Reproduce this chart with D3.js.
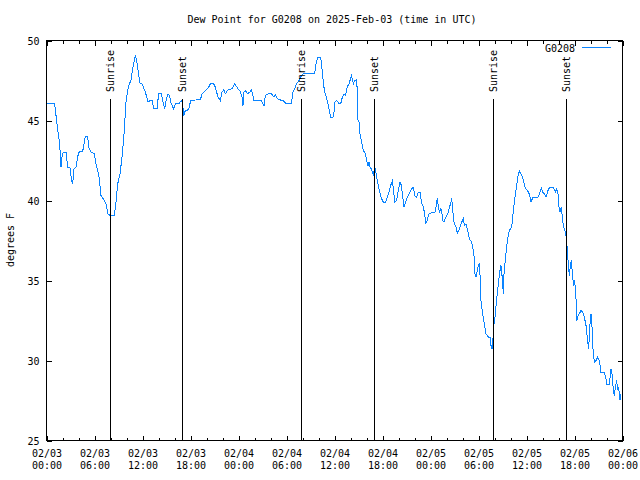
<!DOCTYPE html>
<html>
<head>
<meta charset="utf-8">
<script src="https://cdn.jsdelivr.net/npm/d3@7"></script>
<style>
	body { margin: 0; background: #fff; }
	svg { display: block; font-family: "DejaVu Sans Mono", monospace; font-size: 10px; }
</style>
</head>
<body>
<div id="chart"></div>
<script>
// Station and time window (UTC)
const stationName = "G0208";
const titleText = "Dew Point for G0208 on 2025-Feb-03 (time in UTC)";
const yLabel = "degrees F";
const startTime = Date.UTC(2025, 1, 3, 0, 0);
const endTime = Date.UTC(2025, 1, 6, 0, 0);

// Observations: hours after 02/03 00:00 UTC and dew point (F)
const hoursFromStart = [
	0.1, 1.0, 1.19, 1.4, 1.52, 1.69, 1.81, 1.94, 2.1, 2.44, 2.65, 2.94, 3.1, 3.27, 3.44, 3.69, 3.9, 4.1, 4.52, 4.85,
	5.15, 5.27, 5.56, 5.98, 6.19, 6.4, 6.6, 6.81, 7.23, 7.44, 7.69, 7.94, 8.48, 8.69, 8.9, 9.19, 9.44, 9.65, 9.94, 10.15,
	10.35, 10.56, 10.77, 10.98, 11.1, 11.27, 11.44, 11.69, 11.94, 12.36, 12.69, 12.98, 13.19, 13.4, 13.81, 14.02, 14.36, 14.52, 14.77, 14.94,
	15.19, 15.36, 15.6, 15.9, 16.1, 16.52, 16.85, 17.02, 17.15, 17.36, 17.77, 18.02, 18.81, 19.23, 19.44, 19.86, 20.27, 20.48, 20.9, 21.1,
	21.44, 21.73, 21.94, 22.15, 22.36, 22.69, 23.19, 23.52, 23.94, 24.15, 24.44, 24.56, 24.69, 24.86, 25.11, 25.4, 25.61, 25.81, 25.94, 26.23,
	26.86, 27.06, 27.19, 27.36, 27.69, 28.1, 28.44, 28.6, 28.86, 29.15, 29.56, 29.77, 29.98, 30.6, 30.81, 31.02, 31.23, 31.44, 31.56, 31.77,
	32.06, 33.1, 33.52, 33.73, 33.94, 34.27, 34.44, 34.6, 34.77, 34.98, 35.19, 35.4, 35.52, 35.81, 35.94, 36.06, 36.27, 36.44, 36.56, 36.77,
	36.98, 37.19, 37.4, 37.52, 37.69, 37.81, 37.94, 38.11, 38.23, 38.36, 38.52, 38.77, 38.86, 38.94, 39.06, 39.19, 39.36, 39.61, 39.77, 39.9,
	40.02, 40.19, 40.31, 40.44, 40.6, 40.86, 41.02, 41.15, 41.27, 41.44, 41.56, 41.77, 41.98, 42.19, 42.4, 42.61, 42.81, 43.02, 43.23, 43.36,
	43.52, 43.77, 43.94, 44.19, 44.36, 44.48, 44.69, 44.9, 45.1, 45.44, 45.73, 45.86, 46.02, 46.27, 46.48, 46.69, 46.86, 47.11, 47.27, 47.4,
	47.61, 47.81, 47.94, 48.56, 48.69, 48.86, 48.98, 49.11, 49.27, 49.4, 49.52, 49.69, 49.81, 50.02, 50.23, 50.36, 50.52, 50.65, 50.77, 50.94,
	51.19, 51.36, 51.61, 51.9, 52.1, 52.23, 52.44, 52.6, 52.77, 52.94, 53.15, 53.36, 53.48, 53.56, 53.69, 53.86, 53.98, 54.11, 54.19, 54.31,
	54.52, 54.73, 54.94, 55.11, 55.23, 55.44, 55.56, 55.69, 55.86, 55.94, 56.06, 56.27, 56.48, 56.69, 56.81, 56.94, 57.11, 57.19, 57.36, 57.61,
	57.86, 58.15, 58.36, 58.56, 58.77, 58.98, 59.11, 59.27, 59.52, 59.81, 59.94, 60.27, 60.44, 60.56, 60.77, 61.19, 61.52, 61.69, 61.86, 62.02,
	62.23, 62.44, 62.65, 62.86, 63.36, 63.61, 63.77, 63.94, 64.02, 64.19, 64.36, 64.44, 64.6, 64.86, 65.02, 65.11, 65.19, 65.36, 65.48, 65.61,
	65.77, 65.9, 66.02, 66.19, 66.31, 66.44, 66.61, 66.81, 67.02, 67.23, 67.44, 67.65, 67.77, 67.94, 68.06, 68.19, 68.31, 68.48, 68.69, 68.9,
	69.11, 69.31, 69.73, 69.94, 70.02, 70.36, 70.56, 70.69, 70.86, 70.98, 71.11, 71.27, 71.4, 71.52, 71.69, 71.81
];
const dewPoint = [
	46.08, 46.08, 45.31, 44.38, 44.06, 43.13, 42.08, 42.71, 43.02, 43.02, 42.08, 42.04, 41.35, 41.04, 41.98, 42.08, 42.75, 43.06, 43.06, 44.0,
	44.0, 43.33, 43.02, 42.92, 42.29, 41.88, 41.35, 40.31, 40.0, 39.79, 39.17, 39.06, 39.06, 39.9, 41.04, 41.67, 42.71, 43.85, 46.15, 46.88,
	47.29, 47.5, 48.23, 48.75, 49.06, 48.75, 48.13, 47.33, 47.29, 46.77, 46.15, 46.25, 46.29, 45.73, 45.73, 46.67, 46.67, 46.25, 45.73, 46.25,
	46.67, 46.56, 46.04, 45.73, 46.04, 46.04, 46.25, 46.04, 45.31, 45.63, 45.67, 46.25, 46.29, 46.29, 46.67, 46.88, 47.08, 47.29, 47.29, 47.08,
	46.46, 46.25, 46.77, 46.92, 46.67, 46.92, 46.98, 47.29, 46.98, 46.88, 46.46, 45.94, 46.77, 46.88, 46.67, 46.77, 46.92, 46.56, 46.25, 46.25,
	46.25, 46.04, 45.94, 46.56, 46.67, 46.67, 46.46, 46.63, 46.35, 46.29, 46.25, 46.15, 46.04, 46.04, 46.77, 46.98, 47.29, 47.4, 47.5, 47.71,
	47.92, 47.92, 47.92, 48.65, 48.96, 48.96, 48.23, 47.4, 46.77, 46.46, 46.04, 45.52, 45.21, 45.21, 45.52, 46.15, 46.25, 46.15, 46.04, 46.04,
	46.46, 46.67, 46.56, 46.98, 47.19, 47.29, 47.5, 47.81, 47.6, 47.29, 47.5, 47.54, 46.67, 45.0, 44.9, 44.17, 43.75, 43.12, 43.02, 42.81,
	42.5, 42.19, 42.4, 42.08, 41.98, 41.56, 42.08, 41.88, 41.46, 41.04, 40.73, 40.31, 40.0, 39.83, 39.9, 40.21, 40.52, 40.94, 41.21, 40.73,
	39.9, 40.0, 40.52, 41.15, 40.94, 40.42, 39.58, 39.9, 40.21, 40.52, 40.79, 40.83, 40.31, 40.21, 40.52, 40.52, 39.9, 39.58, 39.17, 38.54,
	38.79, 39.17, 39.21, 39.27, 39.58, 40.17, 39.58, 39.27, 39.48, 39.38, 38.75, 38.65, 38.85, 39.06, 39.27, 39.58, 39.79, 40.17, 39.38, 38.65,
	38.33, 37.96, 38.23, 38.65, 38.85, 38.44, 38.54, 38.23, 37.81, 37.54, 37.4, 36.88, 36.35, 35.42, 35.21, 35.63, 35.94, 36.04, 35.31, 33.75,
	32.92, 32.29, 31.67, 31.56, 31.46, 31.46, 30.94, 30.73, 31.67, 32.29, 32.71, 33.85, 34.79, 35.63, 35.94, 35.31, 34.17, 35.42, 36.35, 37.5,
	38.13, 38.33, 39.38, 40.21, 40.94, 41.67, 41.83, 41.67, 41.46, 40.83, 40.73, 40.52, 40.21, 39.9, 40.17, 40.17, 40.25, 40.52, 40.79, 40.52,
	40.42, 40.21, 40.58, 40.79, 40.79, 40.52, 40.73, 40.42, 39.69, 39.27, 39.58, 39.17, 38.44, 38.02, 37.6, 36.67, 36.25, 35.31, 35.94, 36.25,
	35.21, 34.63, 35.0, 33.85, 32.5, 32.81, 32.92, 33.13, 33.02, 32.71, 32.19, 31.15, 30.73, 32.29, 32.92, 32.08, 30.73, 29.9, 30.0, 30.21,
	30.0, 29.23, 29.23, 28.85, 28.5, 28.5, 29.48, 29.17, 28.13, 27.81, 28.33, 28.75, 28.13, 28.33, 27.5, 27.92
];

// Sunrise / sunset markers
const sunEvents = ["Sunrise", "Sunset", "Sunrise", "Sunset", "Sunrise", "Sunset"];
const sunEventTimes = [
	"2025-02-03T07:58Z", "2025-02-03T16:59Z",
	"2025-02-04T07:51Z", "2025-02-04T16:59Z",
	"2025-02-05T07:51Z", "2025-02-05T16:59Z"
];

// Axis ticks
const yTicks = [25, 30, 35, 40, 45, 50];
const xTickHours = 6;
const xMinorHours = 2;

// General Variables
const width = 640, height = 480;
const plot = { left: 46.5, right: 622.5, top: 40.5, bottom: 440.5 };
const lineColor = "#0a84ff";

let svg = d3.select("#chart").append("svg")
	.attr("width", width)
	.attr("height", height);

let data = hoursFromStart.map((h, i) => ({
	t: new Date(startTime + h * 3600 * 1000),
	v: dewPoint[i]
}));

// scales
let x = d3.scaleUtc()
	.domain([new Date(startTime), new Date(endTime)])
	.range([plot.left, plot.right]);

let y = d3.scaleLinear()
	.domain([25, 50])
	.range([plot.bottom, plot.top]);

let majorTicks = d3.utcHour.every(xTickHours).range(new Date(startTime), new Date(endTime + 1));
let minorTicks = d3.utcHour.every(xMinorHours).range(new Date(startTime), new Date(endTime + 1))
	.filter(d => d.getUTCHours() % xTickHours != 0);

// Bottom axis with two-line labels
let xAxisG = svg.append("g")
	.attr("transform", "translate(0," + plot.bottom + ")")
	.call(d3.axisBottom(x).tickValues(majorTicks).tickSizeInner(-5).tickSizeOuter(0).tickPadding(8).tickFormat(""));
xAxisG.selectAll(".tick text").each(function (d) {
	let t = d3.select(this).attr("dy", null);
	t.append("tspan").attr("x", 0).attr("y", 16).text(d3.utcFormat("%m/%d")(d));
	t.append("tspan").attr("x", 0).attr("y", 28).text(d3.utcFormat("%H:%M")(d));
});
svg.append("g")
	.attr("transform", "translate(0," + plot.bottom + ")")
	.call(d3.axisBottom(x).tickValues(minorTicks).tickSizeInner(-3).tickSizeOuter(0).tickFormat(""));

// Mirrored ticks on top
svg.append("g")
	.attr("transform", "translate(0," + plot.top + ")")
	.call(d3.axisTop(x).tickValues(majorTicks).tickSizeInner(-5).tickSizeOuter(0).tickFormat(""));
svg.append("g")
	.attr("transform", "translate(0," + plot.top + ")")
	.call(d3.axisTop(x).tickValues(minorTicks).tickSizeInner(-3).tickSizeOuter(0).tickFormat(""));

// Y axis left and mirrored right
let yAxisG = svg.append("g")
	.attr("transform", "translate(" + plot.left + ",0)")
	.call(d3.axisLeft(y).tickValues(yTicks).tickSizeInner(-5).tickSizeOuter(0).tickPadding(7).tickFormat(d3.format("d")));
yAxisG.selectAll(".tick text").attr("x", -7).attr("dy", "0.35em");
svg.append("g")
	.attr("transform", "translate(" + plot.right + ",0)")
	.call(d3.axisRight(y).tickValues(yTicks).tickSizeInner(-5).tickSizeOuter(0).tickFormat(""));

svg.selectAll(".domain").remove();
svg.selectAll(".tick line").attr("stroke", "#000").attr("shape-rendering", "crispEdges");
svg.selectAll(".tick text").attr("fill", "#000")
	.style("font-family", "'DejaVu Sans Mono', monospace").style("font-size", "10px");

// Plot border
svg.append("rect")
	.attr("x", plot.left)
	.attr("y", plot.top)
	.attr("width", plot.right - plot.left)
	.attr("height", plot.bottom - plot.top)
	.attr("fill", "none")
	.attr("stroke", "#000")
	.attr("shape-rendering", "crispEdges");

// Dew point line
svg.append("path")
	.datum(data)
	.attr("fill", "none")
	.attr("stroke", lineColor)
	.attr("stroke-width", 1)
	.attr("shape-rendering", "crispEdges")
	.attr("d", d3.line().x(d => x(d.t)).y(d => y(d.v)));

// Sunrise / sunset lines and labels
let sun = svg.append("g")
	.selectAll("g")
	.data(sunEvents.map((name, i) => ({ name: name, t: new Date(sunEventTimes[i]) })))
	.enter().append("g")
	.attr("transform", d => "translate(" + Math.round(x(d.t)) + ".5,0)");
sun.append("line")
	.attr("y1", 99)
	.attr("y2", plot.bottom)
	.attr("stroke", "#000")
	.attr("shape-rendering", "crispEdges");
sun.append("text")
	.attr("transform", "translate(0,92) rotate(-90)")
	.attr("text-anchor", "start")
	.attr("dy", "0.35em")
	.text(d => d.name);

// Legend
svg.append("text")
	.attr("x", 575)
	.attr("y", 48)
	.attr("dy", "0.35em")
	.attr("text-anchor", "end")
	.text(stationName);
svg.append("line")
	.attr("x1", 582)
	.attr("x2", 611)
	.attr("y1", 47.5)
	.attr("y2", 47.5)
	.attr("stroke", lineColor)
	.attr("shape-rendering", "crispEdges");

// Title
svg.append("text")
	.attr("x", 332)
	.attr("y", 19)
	.attr("dy", "0.35em")
	.attr("text-anchor", "middle")
	.text(titleText);

// Y axis label
svg.append("text")
	.attr("transform", "translate(10,240) rotate(-90)")
	.attr("dy", "0.35em")
	.attr("text-anchor", "middle")
	.text(yLabel);
</script>
</body>
</html>
